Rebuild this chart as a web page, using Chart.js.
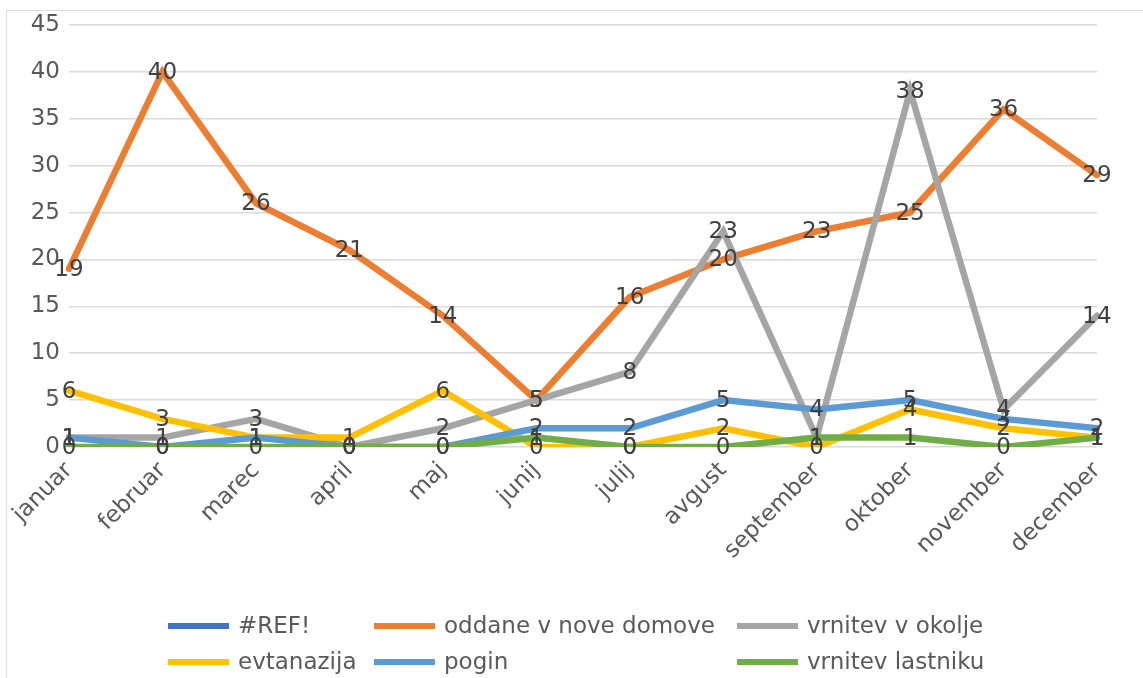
<!DOCTYPE html>
<html>
<head>
<meta charset="utf-8">
<script src="https://cdn.jsdelivr.net/npm/chart.js@4.4.1/dist/chart.umd.min.js"></script>
<style>
  html, body { margin: 0; padding: 0; background: #fff; }
  #wrap { position: relative; width: 1143px; height: 678px; overflow: hidden; }
  #frame { position: absolute; left: 6px; top: 10px; width: 1150px; height: 700px; border: 1px solid #d9d9d9; box-sizing: border-box; }
  canvas { position: absolute; left: 0; top: 0; }
</style>
</head>
<body>
<div id="wrap">
  <div id="frame"></div>
  <canvas id="c" width="1143" height="678"></canvas>
</div>
<script>
const categories = ['januar','februar','marec','april','maj','junij','julij','avgust','september','oktober','november','december'];
const refErr = [];
const oddane = [19, 40, 26, 21, 14, 5, 16, 20, 23, 25, 36, 29];
const vrnitevOkolje = [1, 1, 3, 0, 2, 5, 8, 23, 1, 38, 4, 14];
const evtanazija = [6, 3, 1, 1, 6, 0, 0, 2, 0, 4, 2, 1];
const pogin = [1, 0, 1, 0, 0, 2, 2, 5, 4, 5, 3, 2];
const vrnitevLastniku = [0, 0, 0, 0, 0, 1, 0, 0, 1, 1, 0, 1];
const seriesNames = ['#REF!', 'oddane v nove domove', 'vrnitev v okolje', 'evtanazija', 'pogin', 'vrnitev lastniku'];
const seriesColors = ['#4472C4', '#ED7D31', '#A5A5A5', '#FFC000', '#5B9BD5', '#70AD47'];
const seriesData = [refErr, oddane, vrnitevOkolje, evtanazija, pogin, vrnitevLastniku];
const yTicks = { min: 0, max: 45, step: 5 };

const FONT = 'DejaVu Sans';
const FS = 23;

const datasets = seriesNames.map((name, i) => ({
  label: name,
  data: seriesData[i],
  borderColor: seriesColors[i],
  backgroundColor: seriesColors[i],
  borderWidth: 6.5,
  pointRadius: 0,
  pointHoverRadius: 0,
  tension: 0,
  fill: false,
  borderJoinStyle: 'miter',
  borderCapStyle: 'round',
  order: seriesNames.length - i
}));

const labelPlugin = {
  id: 'valueLabels',
  afterDatasetsDraw(chart) {
    const ctx = chart.ctx;
    ctx.save();
    ctx.font = FS + 'px "' + FONT + '"';
    ctx.fillStyle = '#404040';
    ctx.textAlign = 'center';
    ctx.textBaseline = 'middle';
    chart.data.datasets.forEach((ds, i) => {
      const meta = chart.getDatasetMeta(i);
      meta.data.forEach((pt, j) => {
        const v = ds.data[j];
        if (v === undefined || v === null) return;
        ctx.fillText(String(v), pt.x, pt.y + 1);
      });
    });
    ctx.restore();
  }
};

const legendCols = [168, 374, 737];
const legendRows = [626, 662];
const legendPlugin = {
  id: 'gridLegend',
  afterDraw(chart) {
    const ctx = chart.ctx;
    ctx.save();
    ctx.font = FS + 'px "' + FONT + '"';
    ctx.textBaseline = 'middle';
    ctx.textAlign = 'left';
    chart.data.datasets.forEach((ds, i) => {
      const x = legendCols[i % 3];
      const y = legendRows[Math.floor(i / 3)];
      ctx.strokeStyle = ds.borderColor;
      ctx.lineWidth = 6;
      ctx.lineCap = 'butt';
      ctx.beginPath();
      ctx.moveTo(x, y);
      ctx.lineTo(x + 61, y);
      ctx.stroke();
      ctx.fillStyle = '#595959';
      ctx.fillText(ds.label, x + 70, y + 1);
    });
    ctx.restore();
  }
};

new Chart(document.getElementById('c'), {
  type: 'line',
  data: { labels: categories, datasets },
  options: {
    responsive: false,
    animation: false,
    devicePixelRatio: 1,
    layout: { padding: { left: 6, right: 46, top: 25, bottom: 91 } },
    plugins: {
      legend: { display: false },
      tooltip: { enabled: false }
    },
    scales: {
      x: {
        offset: false,
        grid: { display: false, drawTicks: false },
        border: { display: false },
        ticks: {
          color: '#595959',
          font: { family: FONT, size: FS },
          maxRotation: 45,
          minRotation: 45,
          autoSkip: false,
          padding: 10
        },
        afterFit(scale) { scale.height = 140; }
      },
      y: {
        min: yTicks.min,
        max: yTicks.max,
        grid: { color: '#d9d9d9', lineWidth: 1.5, drawTicks: false },
        border: { display: false },
        ticks: {
          stepSize: yTicks.step,
          color: '#595959',
          font: { family: FONT, size: FS },
          padding: 9
        },
        afterFit(scale) { scale.width = 63; }
      }
    }
  },
  plugins: [labelPlugin, legendPlugin]
});
</script>
</body>
</html>
